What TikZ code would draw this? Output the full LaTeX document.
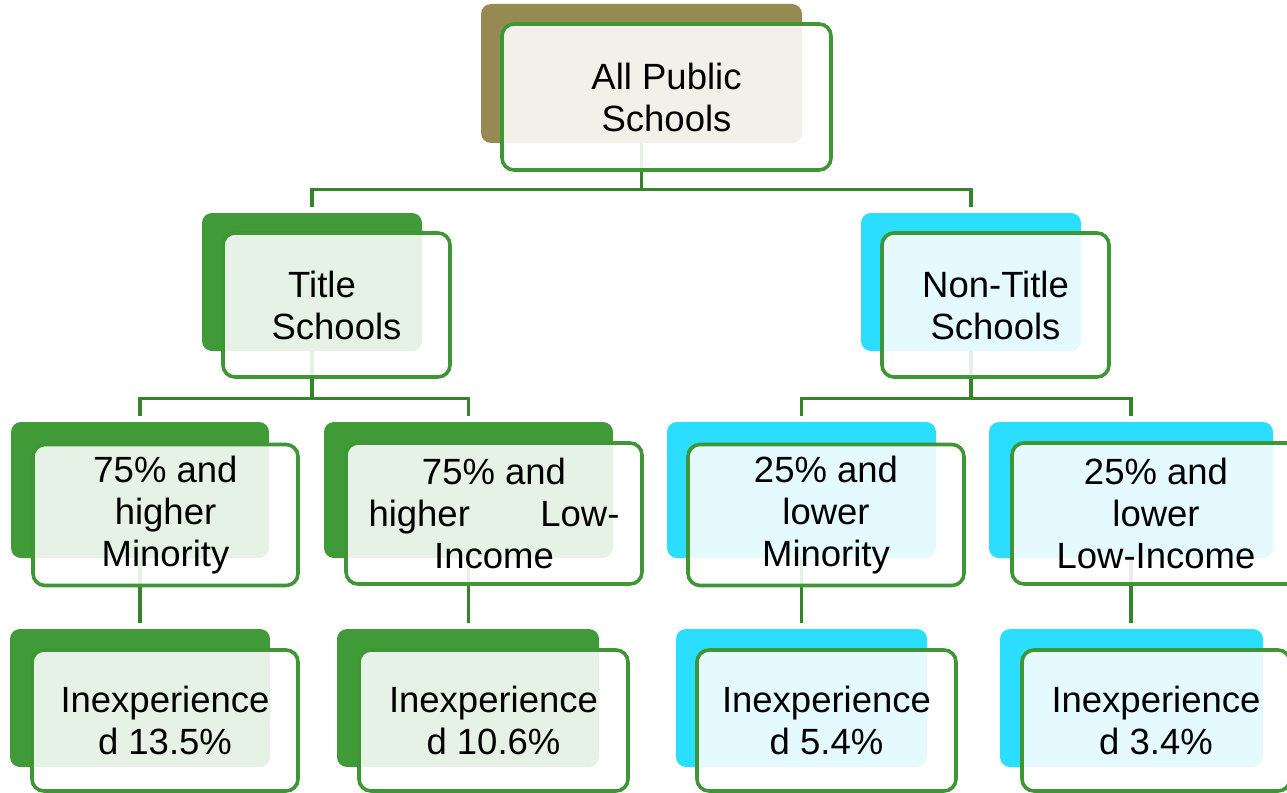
\documentclass[tikz,border=0pt]{standalone}
\usepackage{fontspec}
\newfontfamily\dfont{Liberation Sans}
\definecolor{olive}{RGB}{150,138,82}
\definecolor{bgreen}{RGB}{63,154,55}
\definecolor{bcyan}{RGB}{43,221,255}
\definecolor{ogreen}{RGB}{62,150,52}
\definecolor{cgreen}{RGB}{52,132,42}
\tikzset{
  backbox/.style={rectangle, rounded corners=10pt, inner sep=0pt, draw=none},
  frontbox/.style={rectangle, rounded corners=12pt, inner sep=0pt, draw=ogreen, line width=3.6pt,
    fill=white, fill opacity=0.88, text opacity=1, align=center,
    font=\dfont\fontsize{36.5}{42}\selectfont},
  conn/.style={draw=cgreen, line width=3.4pt, shorten >=6pt}
}
\begin{document}
\begin{tikzpicture}[x=1pt,y=-1pt]
\useasboundingbox (0,0) rectangle (1287,792);
\fill[white] (0,0) rectangle (1287,792);
% back boxes
\node[backbox, fill=olive, minimum width=321pt, minimum height=139pt] (b1) at (641.5,73.5) {};
\node[backbox, fill=bgreen, minimum width=220pt, minimum height=138pt] (b21) at (312,282) {};
\node[backbox, fill=bcyan, minimum width=220pt, minimum height=138pt] (b22) at (971,282) {};
\node[backbox, fill=bgreen, minimum width=258pt, minimum height=136pt] (b31) at (140,490) {};
\node[backbox, fill=bgreen, minimum width=289pt, minimum height=136pt] (b32) at (468.5,490) {};
\node[backbox, fill=bcyan, minimum width=269pt, minimum height=136pt] (b33) at (801.5,490) {};
\node[backbox, fill=bcyan, minimum width=284pt, minimum height=136pt] (b34) at (1131,490) {};
\node[backbox, fill=bgreen, minimum width=260pt, minimum height=138pt] (b41) at (140,698) {};
\node[backbox, fill=bgreen, minimum width=262pt, minimum height=138pt] (b42) at (468,698) {};
\node[backbox, fill=bcyan, minimum width=251pt, minimum height=138pt] (b43) at (801.5,698) {};
\node[backbox, fill=bcyan, minimum width=263pt, minimum height=138pt] (b44) at (1131.5,698) {};
% connectors
\draw[conn] (b1.south) -- ++(0,46) -| (b21.north);
\draw[conn] (b1.south) -- ++(0,46) -| (b22.north);
\draw[conn] (b21.south) -- ++(0,47) -| (b31.north);
\draw[conn] (b21.south) -- ++(0,47) -| (b32.north);
\draw[conn] (b22.south) -- ++(0,47) -| (b33.north);
\draw[conn] (b22.south) -- ++(0,47) -| (b34.north);
\draw[conn] (b31.south) -- (b31.south |- b41.north);
\draw[conn] (b32.south) -- (b32.south |- b42.north);
\draw[conn] (b33.south) -- (b33.south |- b43.north);
\draw[conn] (b34.south) -- (b34.south |- b44.north);
% front boxes
\node[frontbox, minimum width=329pt, minimum height=146pt] (f1) at (666.5,97) {All Public\\Schools};
\node[frontbox, minimum width=227pt, minimum height=144pt] (f21) at (336.5,305) {Title\hspace*{29pt}\\Schools};
\node[frontbox, minimum width=227pt, minimum height=144pt] (f22) at (995.5,305) {Non-Title\\Schools};
\node[frontbox, minimum width=265pt, minimum height=141pt] (f31) at (165.5,515) {75\% and\\higher\\Minority};
\node[frontbox, minimum width=296pt, minimum height=141pt] (f32) at (494,513.5) {75\% and\\\makebox[251pt]{higher\hfill Low-}\\Income};
\node[frontbox, minimum width=276pt, minimum height=141pt] (f33) at (826,515) {25\% and\\lower\\Minority};
\node[frontbox, minimum width=288pt, minimum height=141pt] (f34) at (1156,513.5) {25\% and\\lower\\Low-Income};
\node[frontbox, minimum width=266pt, minimum height=141pt] (f41) at (165,720.5) {Inexperience\\d 13.5\%};
\node[frontbox, minimum width=269pt, minimum height=141pt] (f42) at (493.5,720.5) {Inexperience\\d 10.6\%};
\node[frontbox, minimum width=259pt, minimum height=141pt] (f43) at (826.5,720.5) {Inexperience\\d 5.4\%};
\node[frontbox, minimum width=268pt, minimum height=141pt] (f44) at (1156,720.5) {Inexperience\\d 3.4\%};
\end{tikzpicture}
\end{document}
